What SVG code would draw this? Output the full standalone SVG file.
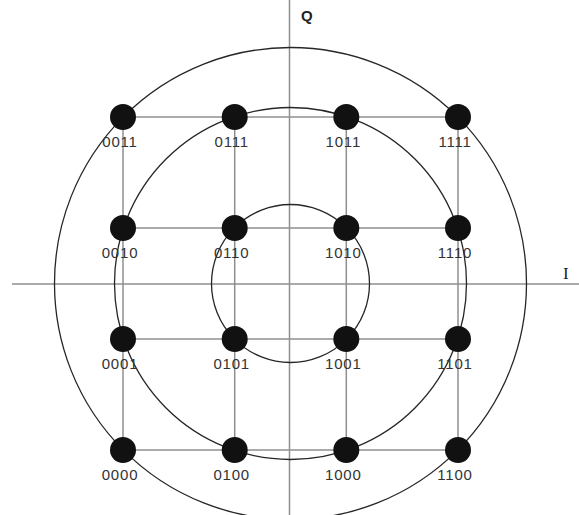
<svg xmlns="http://www.w3.org/2000/svg" width="579" height="515" viewBox="0 0 579 515">
  <style>
    .grid { stroke: #8f8f8f; stroke-width: 1.5; fill: none; }
    .axis { stroke: #8f8f8f; stroke-width: 1.5; fill: none; }
    .ring { stroke: #262626; stroke-width: 1.3; fill: none; }
    .dot { fill: #111111; }
    .lbl { font-family: "Liberation Sans", Arial, sans-serif; font-size: 15px; fill: #333333; text-anchor: middle; letter-spacing: 0.8px; }
    .axlbl { fill: #222222; }
  </style>
  <rect width="579" height="515" fill="#ffffff"/>

  <!-- axes -->
  <g id="axes">
    <line class="axis" x1="12" y1="284" x2="579" y2="284"/>
    <line class="axis" x1="289.5" y1="0" x2="289.5" y2="515"/>
    <text class="axlbl" x="301" y="21" font-family="Liberation Sans, Arial, sans-serif" font-size="15" font-weight="bold">Q</text>
    <text class="axlbl" x="563" y="279" font-family="Liberation Serif, Times New Roman, serif" font-size="17">I</text>
  </g>

  <!-- grid connectors between constellation points -->
  <g id="connectors">
    <line class="grid" x1="123" y1="117" x2="458" y2="117"/>
    <line class="grid" x1="123" y1="228" x2="458" y2="228"/>
    <line class="grid" x1="123" y1="339" x2="458" y2="339"/>
    <line class="grid" x1="123" y1="450" x2="458" y2="450"/>
    <line class="grid" x1="123" y1="117" x2="123" y2="450"/>
    <line class="grid" x1="234.7" y1="117" x2="234.7" y2="450"/>
    <line class="grid" x1="346.3" y1="117" x2="346.3" y2="450"/>
    <line class="grid" x1="458" y1="117" x2="458" y2="450"/>
  </g>

  <!-- amplitude rings -->
  <g id="rings">
    <circle class="ring" cx="290.5" cy="283.5" r="79"/>
    <circle class="ring" cx="290.5" cy="283.5" r="176"/>
    <circle class="ring" cx="290.5" cy="283.5" r="236"/>
  </g>

  <!-- constellation points -->
  <g id="p0011"><circle class="dot" cx="123" cy="117" r="13"/><text class="lbl" x="120" y="147">0011</text></g>
  <g id="p0111"><circle class="dot" cx="234.7" cy="117" r="13"/><text class="lbl" x="231.7" y="147">0111</text></g>
  <g id="p1011"><circle class="dot" cx="346.3" cy="117" r="13"/><text class="lbl" x="343.3" y="147">1011</text></g>
  <g id="p1111"><circle class="dot" cx="458" cy="117" r="13"/><text class="lbl" x="455" y="147">1111</text></g>

  <g id="p0010"><circle class="dot" cx="123" cy="228" r="13"/><text class="lbl" x="120" y="258">0010</text></g>
  <g id="p0110"><circle class="dot" cx="234.7" cy="228" r="13"/><text class="lbl" x="231.7" y="258">0110</text></g>
  <g id="p1010"><circle class="dot" cx="346.3" cy="228" r="13"/><text class="lbl" x="343.3" y="258">1010</text></g>
  <g id="p1110"><circle class="dot" cx="458" cy="228" r="13"/><text class="lbl" x="455" y="258">1110</text></g>

  <g id="p0001"><circle class="dot" cx="123" cy="339" r="13"/><text class="lbl" x="120" y="369">0001</text></g>
  <g id="p0101"><circle class="dot" cx="234.7" cy="339" r="13"/><text class="lbl" x="231.7" y="369">0101</text></g>
  <g id="p1001"><circle class="dot" cx="346.3" cy="339" r="13"/><text class="lbl" x="343.3" y="369">1001</text></g>
  <g id="p1101"><circle class="dot" cx="458" cy="339" r="13"/><text class="lbl" x="455" y="369">1101</text></g>

  <g id="p0000"><circle class="dot" cx="123" cy="450" r="13"/><text class="lbl" x="120" y="480">0000</text></g>
  <g id="p0100"><circle class="dot" cx="234.7" cy="450" r="13"/><text class="lbl" x="231.7" y="480">0100</text></g>
  <g id="p1000"><circle class="dot" cx="346.3" cy="450" r="13"/><text class="lbl" x="343.3" y="480">1000</text></g>
  <g id="p1100"><circle class="dot" cx="458" cy="450" r="13"/><text class="lbl" x="455" y="480">1100</text></g>
</svg>
